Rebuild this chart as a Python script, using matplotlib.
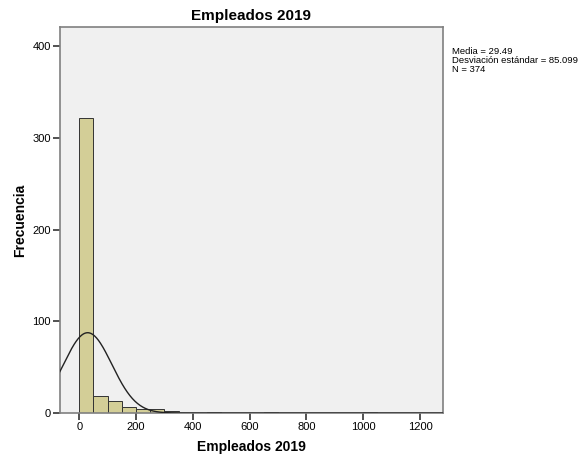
import numpy as np
import matplotlib
matplotlib.use("Agg")
import matplotlib.pyplot as plt

plt.rcParams["font.family"] = ["Liberation Sans", "DejaVu Sans"]

# Histogram bins (width 50) and counts
bin_left = [0, 50, 100, 150, 200, 250, 300, 450, 650, 1000]
counts = [322, 19, 13, 7, 4, 4, 2, 1, 1, 1]
bin_width = 50

mean = 29.49
sd = 85.099
n = 374

fig = plt.figure(figsize=(5.88, 4.61), dpi=100)
ax = fig.add_axes([0.102, 0.104, 0.651, 0.837])
ax.set_facecolor("#f0f0f0")

ax.bar(bin_left, counts, width=bin_width, align="edge",
       color="#d3ce97", edgecolor="#333333", linewidth=0.7, zorder=2)

# Normal curve scaled to counts
xs = np.linspace(-70, 1280, 600)
ys = n * bin_width / (sd * np.sqrt(2 * np.pi)) * np.exp(-0.5 * ((xs - mean) / sd) ** 2)
ax.plot(xs, ys, color="#222222", linewidth=1.0, zorder=3)

ax.set_xlim(-68, 1280)
ax.set_ylim(0, 421)
ax.set_xticks([0, 200, 400, 600, 800, 1000, 1200])
ax.set_yticks([0, 100, 200, 300, 400])
ax.tick_params(labelsize=8, length=5, width=1.2, color="#333333", pad=1.5)

for spine in ax.spines.values():
    spine.set_color("#808080")
    spine.set_linewidth(1.2)

ax.set_title("Empleados 2019", fontsize=11, fontweight="bold", pad=5)
ax.set_xlabel("Empleados 2019", fontsize=10, fontweight="bold", labelpad=6)
ax.set_ylabel("Frecuencia", fontsize=10, fontweight="bold", labelpad=4)

fig.text(0.769, 0.897,
         f"Media = {mean}\nDesviación estándar = {sd}\nN = {n}",
         fontsize=6.8, va="top", ha="left", linespacing=0.95)

fig.savefig("out.png", dpi=100)
